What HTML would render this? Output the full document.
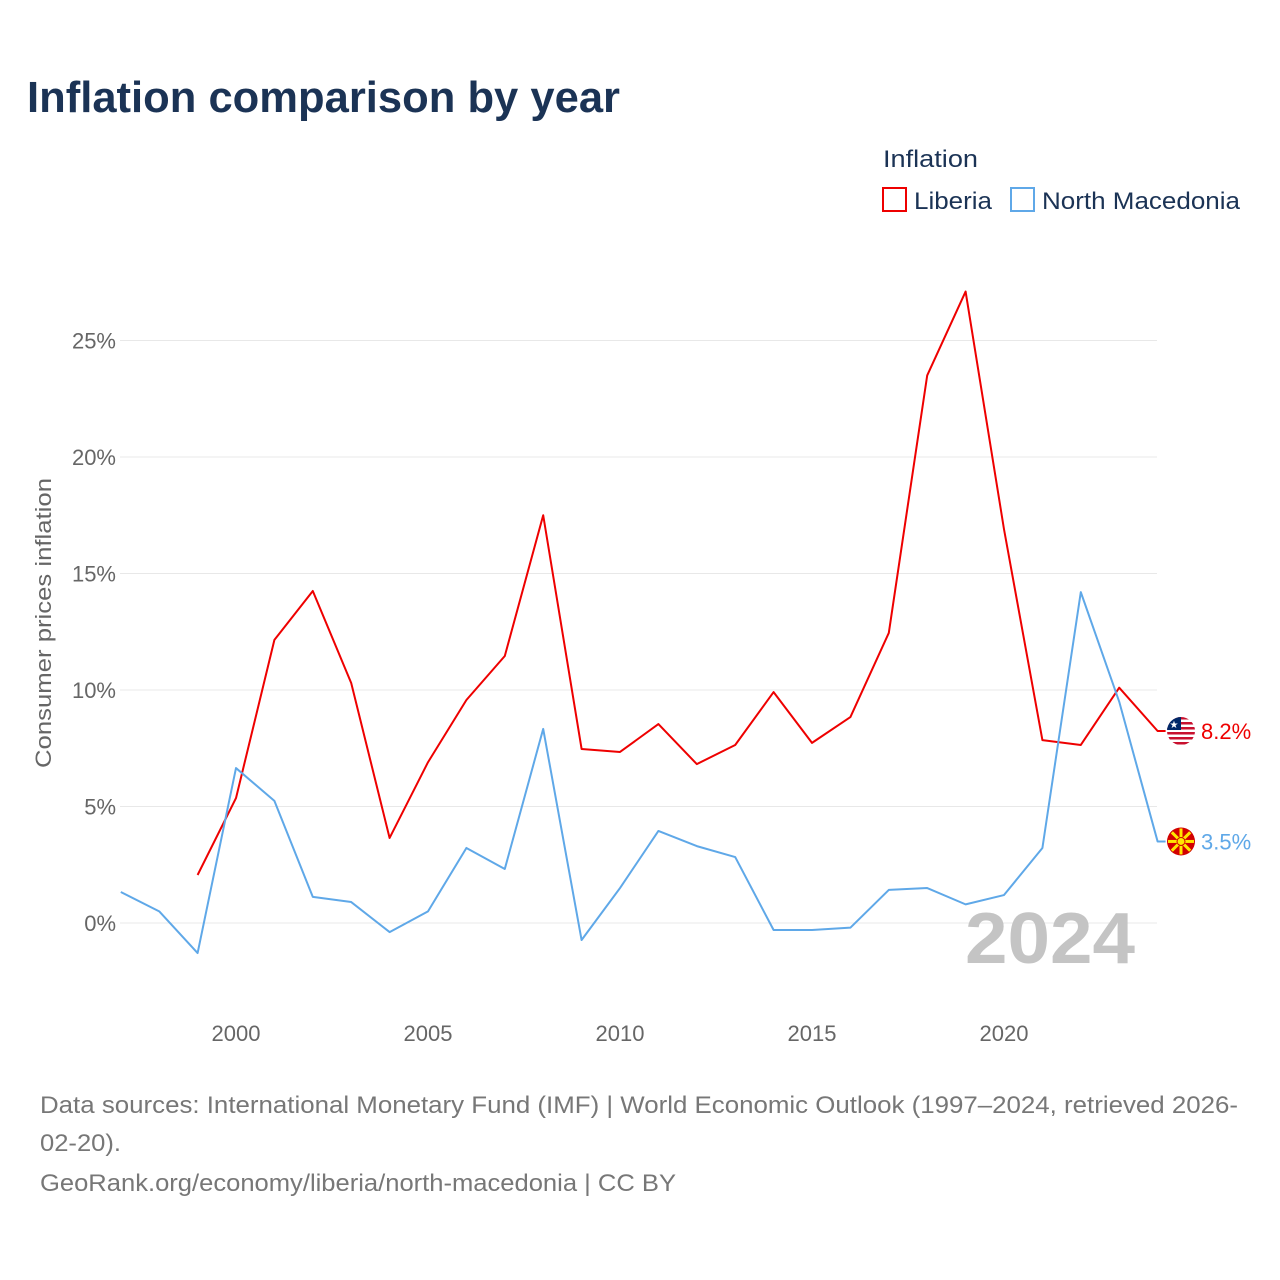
<!DOCTYPE html>
<html><head><meta charset="utf-8"><style>
body{margin:0;background:#fff;font-family:"Liberation Sans",sans-serif;}
#wrap{position:relative;width:1280px;height:1280px;overflow:hidden;}
</style></head><body>
<div id="wrap">
<svg id="chart" width="1280" height="1280" xmlns="http://www.w3.org/2000/svg">
<defs><clipPath id="fc"><circle cx="1181" cy="731" r="14"/></clipPath></defs>
<text x="27" y="112" font-size="44" font-weight="bold" fill="#1b3355" textLength="593" lengthAdjust="spacingAndGlyphs">Inflation comparison by year</text>
<text x="883" y="167" font-size="24" fill="#1b3355" textLength="95" lengthAdjust="spacingAndGlyphs">Inflation</text>
<g><rect x="883" y="188" width="23" height="23" fill="none" stroke="#ee0000" stroke-width="2"/><text x="914" y="209" font-size="24" fill="#1b3355" textLength="78" lengthAdjust="spacingAndGlyphs">Liberia</text></g>
<g><rect x="1011" y="188" width="23" height="23" fill="none" stroke="#5fa8e8" stroke-width="2"/><text x="1042" y="209" font-size="24" fill="#1b3355" textLength="198" lengthAdjust="spacingAndGlyphs">North Macedonia</text></g>
<text transform="translate(51,623) rotate(-90)" text-anchor="middle" font-size="22" fill="#666" textLength="290" lengthAdjust="spacingAndGlyphs">Consumer prices inflation</text>
<g id="grid"></g><g id="ticks"></g>
<text x="1135" y="963" text-anchor="end" font-size="72" font-weight="bold" fill="#c4c4c4" textLength="170" lengthAdjust="spacingAndGlyphs">2024</text>
<g id="series"></g>
<text x="40" y="1113" font-size="24" fill="#777" textLength="1198" lengthAdjust="spacingAndGlyphs">Data sources: International Monetary Fund (IMF) | World Economic Outlook (1997–2024, retrieved 2026-</text>
<text x="40" y="1151" font-size="24" fill="#777" textLength="81" lengthAdjust="spacingAndGlyphs">02-20).</text>
<text x="40" y="1191" font-size="24" fill="#777" textLength="636" lengthAdjust="spacingAndGlyphs">GeoRank.org/economy/liberia/north-macedonia | CC BY</text>
</svg></div>
<script>
const years=[1997,1998,1999,2000,2001,2002,2003,2004,2005,2006,2007,2008,2009,2010,2011,2012,2013,2014,2015,2016,2017,2018,2019,2020,2021,2022,2023,2024];
const liberia=[null,null,2.06,5.36,12.15,14.25,10.3,3.65,6.9,9.57,11.46,17.5,7.47,7.34,8.54,6.82,7.64,9.91,7.73,8.84,12.45,23.5,27.1,16.9,7.85,7.64,10.1,8.24];
const macedonia=[1.33,0.5,-1.29,6.65,5.24,1.12,0.9,-0.39,0.5,3.22,2.32,8.33,-0.73,1.5,3.95,3.3,2.83,-0.3,-0.3,-0.2,1.42,1.5,0.8,1.2,3.22,14.2,9.5,3.5];
const yTicks=[0,5,10,15,20,25];
const xTicks=[2000,2005,2010,2015,2020];
const NS="http://www.w3.org/2000/svg";
const X=y=>120.8+(y-1997)*38.4;
const Y=v=>923-v*23.3;
function mk(t,a,p){const e=document.createElementNS(NS,t);for(const k in a)e.setAttribute(k,a[k]);p.appendChild(e);return e;}
const grid=document.getElementById('grid'),ticks=document.getElementById('ticks'),ser=document.getElementById('series');
yTicks.forEach(v=>{
 const l=mk('line',{x1:120,x2:1157,y1:Y(v),y2:Y(v),stroke:'#e8e8e8','stroke-width':1},grid);
 
 
 const t=mk('text',{x:116,y:Y(v)+8,'text-anchor':'end','font-size':22,fill:'#666'},ticks);t.textContent=v+'%';
 
 
});
xTicks.forEach(v=>{
 const t=mk('text',{x:X(v),y:1041,'text-anchor':'middle','font-size':22,fill:'#666'},ticks);t.textContent=v;
 
 
});
function line(data,color,name){
 let d='';let last=null;
 data.forEach((v,i)=>{if(v==null)return;d+=(d?'L':'M')+X(years[i])+','+Y(v);last=v;});
 d+='L'+(X(2024)+8)+','+Y(last);
 const p=mk('path',{d:d,fill:'none',stroke:color,'stroke-width':2,'stroke-linejoin':'round'},ser);
 
 
 return last;
}
const lv=line(liberia,'#ee0000','liberia');
const mv=line(macedonia,'#5fa8e8','north-macedonia');
const cy=Y(lv);
document.querySelector('#fc circle').setAttribute('cy',cy);
const fl=mk('g',{'clip-path':'url(#fc)'},ser);


mk('circle',{cx:1181,cy:cy,r:14,fill:'#fff'},fl);
for(let i=0;i<6;i++)mk('rect',{x:1167,y:cy-14+i*5,width:28,height:2.5,fill:'#c8102e'},fl);
mk('rect',{x:1167,y:cy-14,width:14,height:13,fill:'#002868'},fl);
mk('text',{x:1174,y:cy-3,'font-size':10,fill:'#fff','text-anchor':'middle'},fl).textContent='★';
const fm=mk('g',{},ser);


const cm=Y(mv);
mk('circle',{cx:1181,cy:cm,r:14,fill:'#d20000'},fm);
for(let a=0;a<8;a++){const r=a*Math.PI/4;mk('line',{x1:1181,y1:cm,x2:1181+13*Math.cos(r),y2:cm+13*Math.sin(r),stroke:'#ffe600','stroke-width':3},fm);}
mk('circle',{cx:1181,cy:cm,r:4,fill:'#ffe600',stroke:'#d20000','stroke-width':1},fm);
const t1=mk('text',{x:1201,y:cy+8,'font-size':22,fill:'#ee0000'},ser);t1.textContent=lv.toFixed(1)+'%';


const t2=mk('text',{x:1201,y:cm+8,'font-size':22,fill:'#5fa8e8'},ser);t2.textContent=mv.toFixed(1)+'%';


</script>
</body></html>
